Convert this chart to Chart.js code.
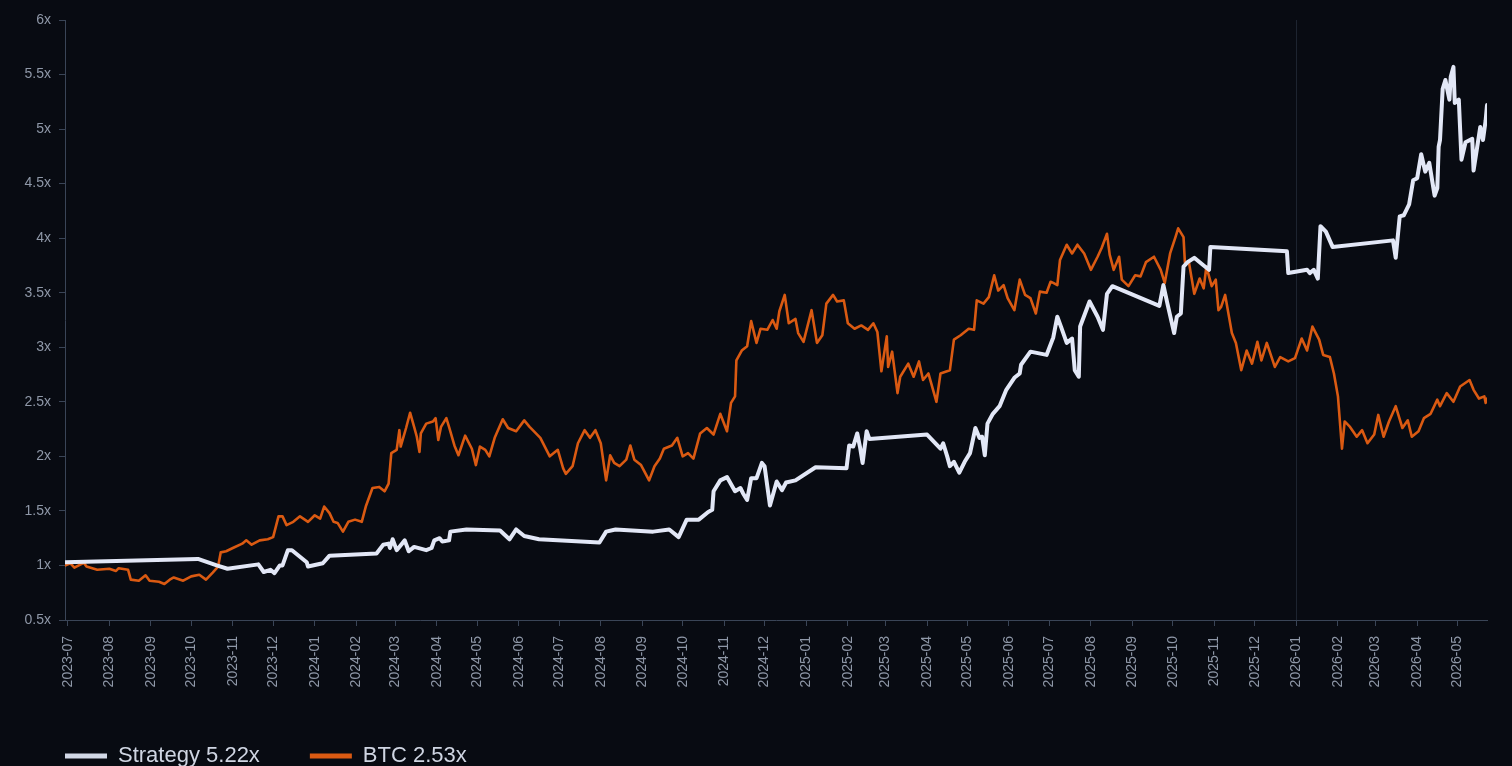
<!DOCTYPE html>
<html>
<head>
<meta charset="utf-8">
<script src="https://cdn.jsdelivr.net/npm/chart.js@4.4.1/dist/chart.umd.min.js"></script>
<style>
html,body{margin:0;padding:0;background:#080b12;overflow:hidden;}
#wrap{position:relative;width:1512px;height:777px;}
</style>
</head>
<body>
<div id="wrap"><canvas id="c"></canvas></div>
<script>
// ---------- DATA ----------
const seriesNames = ['Strategy 5.22x', 'BTC 2.53x'];

const tickMonths = ['2023-07','2023-08','2023-09','2023-10','2023-11','2023-12',
  '2024-01','2024-02','2024-03','2024-04','2024-05','2024-06','2024-07','2024-08','2024-09','2024-10','2024-11','2024-12',
  '2025-01','2025-02','2025-03','2025-04','2025-05','2025-06','2025-07','2025-08','2025-09','2025-10','2025-11','2025-12',
  '2026-01','2026-02','2026-03','2026-04','2026-05'];
const yTicks = [0.5,1,1.5,2,2.5,3,3.5,4,4.5,5,5.5,6];
const markerMonth = '2026-01';

const strategyDates = ['2023-06-29','2023-10-06','2023-10-20','2023-10-28','2023-11-20','2023-11-24','2023-11-29','2023-12-02','2023-12-06','2023-12-08',
  '2023-12-12','2023-12-15','2023-12-26','2023-12-27','2024-01-07','2024-01-12','2024-02-16','2024-02-21','2024-02-25','2024-02-26',
  '2024-02-28','2024-03-02','2024-03-04','2024-03-08','2024-03-11','2024-03-15','2024-03-24','2024-03-28','2024-03-30','2024-04-03',
  '2024-04-05','2024-04-10','2024-04-11','2024-04-23','2024-05-18','2024-05-25','2024-05-30','2024-06-05','2024-06-16','2024-07-31',
  '2024-08-05','2024-08-12','2024-09-09','2024-09-21','2024-09-28','2024-10-04','2024-10-13','2024-10-20','2024-10-23','2024-10-24',
  '2024-10-29','2024-11-03','2024-11-09','2024-11-13','2024-11-15','2024-11-18','2024-11-21','2024-11-25','2024-11-29','2024-12-01',
  '2024-12-05','2024-12-10','2024-12-14','2024-12-17','2024-12-24','2025-01-08','2025-01-31','2025-02-02','2025-02-05','2025-02-08',
  '2025-02-10','2025-02-12','2025-02-15','2025-02-17','2025-04-01','2025-04-11','2025-04-13','2025-04-16','2025-04-18','2025-04-21',
  '2025-04-25','2025-04-29','2025-05-03','2025-05-07','2025-05-10','2025-05-12','2025-05-14','2025-05-16','2025-05-20','2025-05-25',
  '2025-05-30','2025-06-05','2025-06-09','2025-06-10','2025-06-17','2025-06-29','2025-07-04','2025-07-07','2025-07-10','2025-07-14',
  '2025-07-18','2025-07-20','2025-07-23','2025-07-24','2025-07-31','2025-08-06','2025-08-08','2025-08-10','2025-08-13','2025-08-17',
  '2025-09-21','2025-09-24','2025-09-27','2025-10-02','2025-10-04','2025-10-07','2025-10-09','2025-10-12','2025-10-17','2025-10-24',
  '2025-10-28','2025-10-29','2025-12-25','2025-12-26','2026-01-09','2026-01-11','2026-01-14','2026-01-17','2026-01-19','2026-01-23',
  '2026-01-28','2026-03-14','2026-03-16','2026-03-19','2026-03-22','2026-03-26','2026-03-29','2026-04-01','2026-04-04','2026-04-07',
  '2026-04-10','2026-04-14','2026-04-16','2026-04-17','2026-04-18','2026-04-20','2026-04-22','2026-04-25','2026-04-26','2026-04-28',
  '2026-04-29','2026-05-02','2026-05-04','2026-05-07','2026-05-12','2026-05-13','2026-05-18','2026-05-20','2026-05-22','2026-05-23'];
const strategyValues = [1.03,1.06,1.00,0.97,1.01,0.94,0.96,0.93,1.00,1.00,
  1.14,1.14,1.03,0.99,1.02,1.09,1.11,1.19,1.20,1.16,
  1.24,1.14,1.17,1.23,1.13,1.17,1.14,1.16,1.23,1.25,
  1.22,1.23,1.31,1.33,1.32,1.24,1.33,1.27,1.24,1.21,
  1.31,1.33,1.31,1.33,1.26,1.42,1.42,1.49,1.51,1.68,
  1.78,1.81,1.68,1.71,1.66,1.60,1.80,1.80,1.94,1.91,
  1.55,1.77,1.69,1.76,1.78,1.90,1.89,2.10,2.09,2.21,
  2.09,1.94,2.23,2.16,2.20,2.07,2.12,2.00,1.91,1.95,
  1.85,1.95,2.03,2.26,2.17,2.18,2.01,2.30,2.39,2.46,
  2.61,2.72,2.76,2.84,2.96,2.93,3.09,3.28,3.18,3.04,
  3.08,2.79,2.73,3.19,3.42,3.28,3.22,3.16,3.49,3.56,
  3.38,3.57,3.40,3.13,3.28,3.31,3.74,3.78,3.82,3.75,
  3.71,3.92,3.88,3.68,3.71,3.68,3.71,3.63,4.11,4.06,
  3.92,3.98,3.82,4.20,4.21,4.31,4.53,4.55,4.77,4.61,
  4.69,4.39,4.46,4.84,4.90,5.37,5.45,5.27,5.48,5.57,
  5.24,5.27,4.72,4.88,4.91,4.62,5.02,4.90,5.08,5.22];

const btcDates = ['2023-06-29','2023-07-03','2023-07-06','2023-07-13','2023-07-15','2023-07-23','2023-08-01','2023-08-06','2023-08-08','2023-08-15',
  '2023-08-17','2023-08-23','2023-08-28','2023-08-31','2023-09-07','2023-09-11','2023-09-15','2023-09-18','2023-09-25','2023-10-01',
  '2023-10-07','2023-10-12','2023-10-17','2023-10-21','2023-10-23','2023-10-27','2023-11-01','2023-11-08','2023-11-11','2023-11-15',
  '2023-11-21','2023-11-27','2023-12-01','2023-12-05','2023-12-08','2023-12-11','2023-12-16','2023-12-21','2023-12-27','2024-01-01',
  '2024-01-05','2024-01-08','2024-01-12','2024-01-15','2024-01-18','2024-01-22','2024-01-26','2024-01-31','2024-02-05','2024-02-08',
  '2024-02-13','2024-02-18','2024-02-22','2024-02-25','2024-02-27','2024-03-02','2024-03-04','2024-03-05','2024-03-09','2024-03-12',
  '2024-03-15','2024-03-17','2024-03-19','2024-03-20','2024-03-24','2024-03-29','2024-03-31','2024-04-02','2024-04-04','2024-04-08',
  '2024-04-10','2024-04-14','2024-04-17','2024-04-22','2024-04-27','2024-04-30','2024-05-03','2024-05-07','2024-05-10','2024-05-14',
  '2024-05-20','2024-05-24','2024-05-30','2024-06-05','2024-06-09','2024-06-17','2024-06-24','2024-06-30','2024-07-04','2024-07-06',
  '2024-07-11','2024-07-15','2024-07-20','2024-07-24','2024-07-28','2024-08-01','2024-08-05','2024-08-08','2024-08-11','2024-08-15',
  '2024-08-20','2024-08-23','2024-08-26','2024-08-31','2024-09-06','2024-09-10','2024-09-14','2024-09-17','2024-09-23','2024-09-27',
  '2024-10-01','2024-10-05','2024-10-09','2024-10-14','2024-10-19','2024-10-24','2024-10-29','2024-11-03','2024-11-06','2024-11-09',
  '2024-11-10','2024-11-14','2024-11-18','2024-11-21','2024-11-25','2024-11-28','2024-12-03','2024-12-07','2024-12-10','2024-12-12',
  '2024-12-16','2024-12-19','2024-12-24','2024-12-26','2024-12-30','2025-01-05','2025-01-09','2025-01-13','2025-01-16','2025-01-21',
  '2025-01-24','2025-01-29','2025-02-01','2025-02-06','2025-02-11','2025-02-16','2025-02-20','2025-02-23','2025-02-26','2025-03-02',
  '2025-03-03','2025-03-06','2025-03-10','2025-03-12','2025-03-18','2025-03-22','2025-03-26','2025-03-29','2025-04-02','2025-04-08',
  '2025-04-11','2025-04-18','2025-04-21','2025-04-26','2025-05-02','2025-05-06','2025-05-08','2025-05-13','2025-05-17','2025-05-21',
  '2025-05-24','2025-05-28','2025-05-31','2025-06-05','2025-06-09','2025-06-13','2025-06-17','2025-06-21','2025-06-24','2025-06-29',
  '2025-07-02','2025-07-04','2025-07-07','2025-07-09','2025-07-14','2025-07-18','2025-07-22','2025-07-27','2025-08-01','2025-08-06',
  '2025-08-09','2025-08-13','2025-08-15','2025-08-18','2025-08-22','2025-08-24','2025-08-29','2025-09-03','2025-09-07','2025-09-11',
  '2025-09-17','2025-09-22','2025-09-25','2025-09-29','2025-10-03','2025-10-05','2025-10-09','2025-10-10','2025-10-13','2025-10-17',
  '2025-10-21','2025-10-24','2025-10-26','2025-10-30','2025-11-02','2025-11-04','2025-11-06','2025-11-09','2025-11-14','2025-11-17',
  '2025-11-21','2025-11-25','2025-11-29','2025-12-03','2025-12-06','2025-12-10','2025-12-16','2025-12-20','2025-12-26','2025-12-31',
  '2026-01-05','2026-01-09','2026-01-13','2026-01-18','2026-01-21','2026-01-26','2026-01-29','2026-02-01','2026-02-04','2026-02-06',
  '2026-02-10','2026-02-15','2026-02-19','2026-02-23','2026-02-28','2026-03-03','2026-03-07','2026-03-11','2026-03-16','2026-03-21',
  '2026-03-25','2026-03-28','2026-04-02','2026-04-06','2026-04-11','2026-04-16','2026-04-18','2026-04-23','2026-04-28','2026-05-03',
  '2026-05-10','2026-05-13','2026-05-17','2026-05-21','2026-05-22','2026-05-23'];
const btcValues = [1.00,1.02,0.98,1.025,0.99,0.96,0.97,0.95,0.975,0.96,
  0.87,0.86,0.91,0.86,0.85,0.83,0.87,0.89,0.86,0.90,
  0.915,0.87,0.935,0.99,1.12,1.13,1.16,1.20,1.23,1.19,
  1.23,1.24,1.26,1.45,1.45,1.37,1.40,1.45,1.40,1.46,
  1.43,1.54,1.48,1.40,1.39,1.31,1.40,1.42,1.40,1.54,
  1.71,1.72,1.68,1.75,2.03,2.06,2.24,2.09,2.26,2.40,
  2.27,2.18,2.04,2.21,2.30,2.32,2.35,2.15,2.27,2.35,
  2.27,2.10,2.01,2.19,2.07,1.92,2.09,2.06,2.00,2.17,
  2.34,2.26,2.23,2.33,2.27,2.17,2.00,2.06,1.89,1.84,
  1.91,2.12,2.24,2.17,2.24,2.12,1.78,2.01,1.94,1.91,
  1.97,2.10,1.97,1.92,1.78,1.91,1.98,2.07,2.10,2.17,
  2.00,2.03,1.98,2.21,2.26,2.20,2.39,2.23,2.49,2.55,
  2.88,2.97,3.01,3.24,3.04,3.17,3.16,3.25,3.17,3.33,
  3.48,3.22,3.26,3.13,3.05,3.34,3.04,3.11,3.40,3.48,
  3.42,3.43,3.22,3.17,3.20,3.16,3.22,3.14,2.78,3.10,
  2.82,2.96,2.58,2.73,2.85,2.73,2.87,2.70,2.76,2.50,
  2.76,2.79,3.07,3.11,3.17,3.16,3.43,3.40,3.46,3.66,
  3.52,3.57,3.45,3.34,3.62,3.48,3.45,3.31,3.51,3.50,
  3.60,3.59,3.57,3.80,3.94,3.86,3.94,3.86,3.71,3.83,
  3.91,4.04,3.85,3.71,3.83,3.62,3.56,3.66,3.65,3.78,
  3.83,3.71,3.59,3.86,4.01,4.09,4.01,3.78,3.78,3.49,
  3.63,3.54,3.74,3.56,3.62,3.34,3.37,3.48,3.13,3.04,
  2.79,2.97,2.85,3.05,2.88,3.04,2.82,2.91,2.87,2.90,
  3.08,2.97,3.19,3.07,2.93,2.91,2.76,2.55,2.07,2.32,
  2.27,2.18,2.24,2.12,2.20,2.38,2.18,2.32,2.46,2.26,
  2.33,2.18,2.23,2.35,2.39,2.52,2.46,2.58,2.50,2.64,
  2.70,2.61,2.53,2.55,2.49,2.53];

// ---------- HELPERS ----------
function toMs(s){ const p = s.split('-').map(Number); return Date.UTC(p[0], p[1]-1, p[2] || 1); }
function monthLabel(ms){ const d = new Date(ms); return d.getUTCFullYear() + '-' + String(d.getUTCMonth()+1).padStart(2,'0'); }
function pts(dates, vals){ return dates.map((d,i) => ({x: toMs(d), y: vals[i]})); }

const COL_BG = '#080b12';
const COL_AXIS = '#3a4557';
const COL_TICK = '#8f98a8';
const COL_STRAT = '#e2e7f6';
const COL_STRAT_KEY = '#d2d8e6';
const COL_BTC = '#da5a12';
const FONT = "'Liberation Sans', Arial, Helvetica, sans-serif";

Chart.defaults.font.family = FONT;

const xMin = toMs(btcDates[0]);
const xMax = toMs(btcDates[btcDates.length-1]);
const markerMs = toMs(markerMonth);

const bgPlugin = {
  id: 'bg',
  beforeDraw(chart){ const c = chart.ctx; c.save(); c.fillStyle = COL_BG; c.fillRect(0,0,chart.width,chart.height); c.restore(); }
};

new Chart(document.getElementById('c'), {
  type: 'line',
  data: {
    datasets: [
      { label: seriesNames[0], data: pts(strategyDates, strategyValues), borderColor: COL_STRAT, backgroundColor: COL_STRAT_KEY,
        borderWidth: 4, pointRadius: 0, tension: 0, borderJoinStyle: 'round', borderCapStyle: 'round' },
      { label: seriesNames[1], data: pts(btcDates, btcValues), borderColor: COL_BTC, backgroundColor: COL_BTC,
        borderWidth: 2.6, pointRadius: 0, tension: 0, borderJoinStyle: 'round', borderCapStyle: 'round' }
    ]
  },
  options: {
    responsive: true,
    maintainAspectRatio: false,
    animation: false,
    layout: { padding: { left: 15, right: 25, top: 20, bottom: 0 } },
    plugins: {
      tooltip: { enabled: false },
      legend: {
        position: 'bottom',
        align: 'start',
        labels: {
          boxWidth: 42,
          boxHeight: 5,
          padding: 50,
          color: '#cfd5e2',
          font: { size: 22, family: FONT },
          generateLabels(chart){
            return Chart.defaults.plugins.legend.labels.generateLabels(chart).map(it => {
              const ds = chart.data.datasets[it.datasetIndex];
              it.fillStyle = ds.backgroundColor; it.strokeStyle = ds.backgroundColor; it.lineWidth = 0;
              return it;
            });
          }
        }
      }
    },
    scales: {
      x: {
        type: 'linear',
        min: xMin,
        max: xMax,
        afterBuildTicks(scale){ scale.ticks = tickMonths.map(m => ({ value: toMs(m) })); },
        afterFit(scale){ scale.height = 75; },
        border: { display: true, color: COL_AXIS, width: 1 },
        grid: {
          drawOnChartArea: true,
          drawTicks: true,
          tickLength: 6,
          color: (ctx) => (ctx.tick && ctx.tick.value === markerMs) ? '#1d2430' : 'rgba(0,0,0,0)',
          tickColor: COL_AXIS,
          lineWidth: 1
        },
        ticks: {
          autoSkip: false,
          minRotation: 90,
          maxRotation: 90,
          padding: 10,
          color: COL_TICK,
          font: { size: 14, family: FONT },
          callback: (v) => monthLabel(v)
        }
      },
      y: {
        type: 'linear',
        min: yTicks[0],
        max: yTicks[yTicks.length-1],
        afterBuildTicks(scale){ scale.ticks = yTicks.map(v => ({ value: v })); },
        afterFit(scale){ scale.width = 50; },
        border: { display: true, color: COL_AXIS, width: 1 },
        grid: { drawOnChartArea: false, drawTicks: true, tickLength: 6, tickColor: COL_AXIS },
        ticks: {
          padding: 8,
          color: COL_TICK,
          font: { size: 14, family: FONT },
          callback: (v) => v + 'x'
        }
      }
    }
  },
  plugins: [bgPlugin]
});
</script>
</body>
</html>
